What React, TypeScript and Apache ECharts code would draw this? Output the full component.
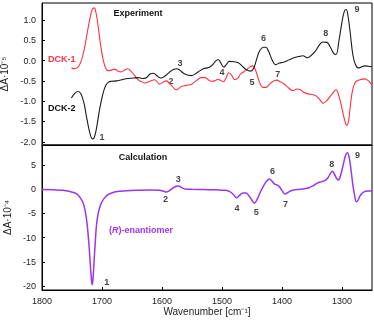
import React, { useEffect, useRef } from "react";
import * as echarts from "echarts";

// Experiment: DCK-1 (red)
const dck1Wn = [1751, 1746, 1740, 1735, 1730, 1725, 1720, 1716, 1713, 1710, 1706, 1702, 1698, 1694, 1690, 1685, 1679, 1673, 1668, 1662, 1657, 1652, 1646, 1640, 1634, 1628, 1622, 1612, 1604, 1598, 1593, 1585, 1576, 1568, 1560, 1551, 1543, 1535, 1528, 1523, 1518, 1512, 1507, 1502, 1498, 1493, 1489, 1484, 1479, 1474, 1469, 1464, 1459, 1454, 1449, 1445, 1441, 1437, 1432, 1427, 1422, 1416, 1409, 1403, 1397, 1390, 1382, 1375, 1370, 1364, 1357, 1348, 1342, 1336, 1331, 1325, 1318, 1310, 1305, 1299, 1295, 1292, 1289, 1286, 1282, 1277, 1270, 1262, 1256, 1250];
const dck1Val = [-0.18, -0.2, -0.16, -0.02, 0.25, 0.65, 1.05, 1.27, 1.3, 1.18, 0.8, 0.35, 0.02, -0.18, -0.25, -0.24, -0.21, -0.26, -0.28, -0.23, -0.2, -0.26, -0.36, -0.47, -0.52, -0.55, -0.52, -0.47, -0.58, -0.53, -0.5, -0.6, -0.72, -0.64, -0.61, -0.58, -0.5, -0.42, -0.42, -0.47, -0.51, -0.5, -0.46, -0.49, -0.52, -0.42, -0.3, -0.36, -0.47, -0.44, -0.33, -0.28, -0.22, -0.16, -0.13, -0.2, -0.38, -0.55, -0.66, -0.66, -0.6, -0.52, -0.48, -0.52, -0.57, -0.66, -0.74, -0.7, -0.71, -0.78, -0.82, -0.84, -0.88, -0.98, -1.05, -0.98, -0.85, -0.72, -0.88, -1.25, -1.5, -1.6, -1.48, -1.1, -0.7, -0.52, -0.47, -0.45, -0.5, -0.6];

// Experiment: DCK-2 (black)
const dck2Wn = [1751, 1745, 1740, 1735, 1730, 1725, 1720, 1716, 1713, 1709, 1704, 1699, 1694, 1689, 1684, 1676, 1667, 1657, 1648, 1640, 1633, 1626, 1620, 1614, 1608, 1602, 1595, 1588, 1581, 1575, 1570, 1562, 1551, 1540, 1531, 1522, 1515, 1510, 1506, 1502, 1497, 1492, 1488, 1480, 1473, 1466, 1460, 1452, 1447, 1442, 1437, 1431, 1427, 1422, 1416, 1411, 1404, 1398, 1388, 1380, 1372, 1365, 1358, 1352, 1345, 1338, 1332, 1325, 1320, 1314, 1310, 1305, 1300, 1296, 1293, 1290, 1286, 1282, 1278, 1273, 1268, 1262, 1256, 1250];
const dck2Val = [-0.92, -0.8, -0.76, -0.82, -1.05, -1.45, -1.8, -1.93, -1.9, -1.65, -1.2, -0.85, -0.62, -0.53, -0.51, -0.5, -0.47, -0.44, -0.43, -0.42, -0.44, -0.42, -0.33, -0.31, -0.38, -0.43, -0.38, -0.29, -0.22, -0.2, -0.24, -0.33, -0.37, -0.28, -0.2, -0.17, -0.09, 0.0, 0.02, -0.06, -0.16, -0.08, -0.02, -0.03, -0.05, -0.14, -0.22, -0.26, -0.18, 0.05, 0.25, 0.33, 0.33, 0.22, 0.0, -0.1, -0.06, -0.04, 0.02, 0.07, 0.1, 0.12, 0.07, 0.12, 0.22, 0.38, 0.46, 0.45, 0.35, 0.18, 0.15, 0.5, 0.95, 1.22, 1.26, 1.1, 0.65, 0.15, -0.08, -0.18, -0.16, -0.13, -0.14, -0.15];

// Calculation: (R)-enantiomer (purple)
const calcWn = [1800, 1780, 1765, 1755, 1745, 1740, 1735, 1731, 1728, 1725, 1722, 1720, 1718, 1716.5, 1715, 1713, 1711, 1709, 1706, 1703, 1700, 1695, 1690, 1685, 1675, 1660, 1640, 1620, 1605, 1598, 1593, 1588, 1582, 1576, 1572, 1567, 1560, 1550, 1530, 1510, 1495, 1487, 1481, 1476, 1471, 1465, 1460, 1455, 1450, 1446, 1441, 1436, 1431, 1426, 1421, 1417, 1413, 1409, 1405, 1400, 1395, 1390, 1384, 1375, 1365, 1355, 1348, 1342, 1335, 1328, 1323, 1319, 1316, 1313, 1309, 1306, 1302, 1298, 1294, 1291, 1288, 1285, 1282, 1279, 1276, 1273, 1269, 1264, 1257, 1250];
const calcVal = [-0.1, -0.15, -0.25, -0.45, -0.8, -1.2, -2.0, -3.0, -4.5, -7.0, -11, -14.6, -18, -19.7, -18.5, -14.5, -10.5, -7.2, -4.8, -3.5, -2.6, -1.7, -1.15, -0.85, -0.5, -0.35, -0.25, -0.2, -0.25, -0.4, -0.6, -0.35, 0.2, 0.6, 0.65, 0.3, 0.0, -0.05, -0.1, -0.15, -0.25, -0.5, -1.1, -1.8, -1.3, -0.8, -0.8, -1.4, -2.3, -2.9, -2.0, -0.6, 0.6, 1.6, 2.1, 1.7, 1.1, 0.9, 0.6, -0.3, -1.0, -0.7, -0.3, -0.1, 0.05, 0.3, 0.7, 1.2, 1.5, 1.8, 2.4, 3.3, 3.7, 3.2, 2.2, 1.9, 3.0, 5.0, 7.0, 7.5, 6.5, 4.0, 1.0, -1.3, -2.6, -2.2, -1.2, -0.6, -0.4, -0.4];

// Peak number labels (data coordinates)
const topPeakNames = ["1", "2", "3", "4", "5", "6", "7", "8", "9"];
const topPeakWn = [1700, 1585, 1570, 1500, 1450, 1431, 1407, 1327, 1275];
const topPeakVal = [-1.88, -0.5, -0.06, -0.27, -0.52, 0.55, -0.33, 0.67, 1.26];
const botPeakNames = ["1", "2", "3", "4", "5", "6", "7", "8", "9"];
const botPeakWn = [1692, 1594, 1573, 1475, 1443, 1416, 1394, 1317, 1274];
const botPeakVal = [-19.2, -2.1, 2.1, -3.9, -4.8, 3.7, -3.0, 5.1, 7.0];

// Tick values
const xTicks = [1800, 1700, 1600, 1500, 1400, 1300];
const topYTicks = [-2.0, -1.5, -1.0, -0.5, 0.0, 0.5, 1.0];
const botYTicks = [-20, -15, -10, -5, 0, 5];

const zip = (a: number[], b: number[]) => a.map((x, i) => [x, b[i]]);

const FONT = "Liberation Sans, Arial, sans-serif";
const RED = "#ff2f3f";
const BLACK = "#1a1a1a";
const PURPLE = "#9b35f0";

export default function App() {
  const ref = useRef<HTMLDivElement>(null);
  useEffect(() => {
    if (!ref.current) return;
    const chart = echarts.init(ref.current, undefined, { renderer: "svg" });
    const axisCommon = {
      axisLine: { show: true, onZero: false, lineStyle: { color: "#000", width: 1 } },
      splitLine: { show: false },
    };
    const labelStyle = { fontSize: 9, color: "#222", fontFamily: FONT };
    const peakLabel = {
      show: true,
      position: "inside",
      formatter: "{b}",
      fontSize: 9,
      fontWeight: "bold",
      color: "#111",
      fontFamily: FONT,
    };
    const gridCommon = {
      left: 42, right: 2, show: true, borderColor: "#000", borderWidth: 1,
      backgroundColor: "transparent", containLabel: false, outerBoundsMode: "none",
    };
    chart.setOption({
      animation: false,
      grid: [
        { ...gridCommon, top: 3, height: 142 },
        { ...gridCommon, top: 145, height: 145 },
      ],
      xAxis: [
        {
          type: "value", gridIndex: 0, min: 1250, max: 1800, inverse: true,
          ...axisCommon,
          axisTick: { show: false },
          axisLabel: { show: false },
        },
        {
          type: "value", gridIndex: 1, min: 1250, max: 1800, inverse: true,
          ...axisCommon,
          axisTick: { show: true, inside: true, length: 3, customValues: xTicks, lineStyle: { color: "#000" } },
          axisLabel: { ...labelStyle, margin: 6, customValues: xTicks, formatter: (v: number) => String(v) },
          name: "Wavenumber [cm\u207B\u00B9]",
          nameLocation: "middle",
          nameGap: 16,
          nameTextStyle: { fontSize: 10, color: "#222", fontFamily: FONT },
        },
      ],
      yAxis: [
        {
          type: "value", gridIndex: 0, min: -2.08, max: 1.42,
          ...axisCommon,
          axisTick: { show: true, inside: true, length: 3, customValues: topYTicks, lineStyle: { color: "#000" } },
          axisLabel: { ...labelStyle, margin: 6, customValues: topYTicks, formatter: (v: number) => v.toFixed(1) },
          name: "\u0394A\u00B710\u207B\u2075",
          nameLocation: "middle",
          nameGap: 24,
          nameTextStyle: { fontSize: 10, color: "#222", fontFamily: FONT },
        },
        {
          type: "value", gridIndex: 1, min: -20.8, max: 9.1,
          ...axisCommon,
          axisTick: { show: true, inside: true, length: 3, customValues: botYTicks, lineStyle: { color: "#000" } },
          axisLabel: { ...labelStyle, margin: 6, customValues: botYTicks, formatter: (v: number) => String(Math.round(v)) },
          name: "\u0394A\u00B710\u207B\u2074",
          nameLocation: "middle",
          nameGap: 24,
          nameTextStyle: { fontSize: 10, color: "#222", fontFamily: FONT },
        },
      ],
      series: [
        {
          type: "line", name: "DCK-1", xAxisIndex: 0, yAxisIndex: 0,
          data: zip(dck1Wn, dck1Val), showSymbol: false, smooth: 0.4,
          lineStyle: { color: RED, width: 1.1 }, silent: true,
        },
        {
          type: "line", name: "DCK-2", xAxisIndex: 0, yAxisIndex: 0,
          data: zip(dck2Wn, dck2Val), showSymbol: false, smooth: 0.4,
          lineStyle: { color: BLACK, width: 1.1 }, silent: true,
        },
        {
          type: "line", name: "(R)-enantiomer", xAxisIndex: 1, yAxisIndex: 1,
          data: zip(calcWn, calcVal), showSymbol: false, smooth: 0.4,
          lineStyle: { color: PURPLE, width: 1.5 }, silent: true,
        },
        {
          type: "scatter", xAxisIndex: 0, yAxisIndex: 0, symbolSize: 0.1,
          itemStyle: { color: "transparent" }, silent: true,
          data: topPeakNames.map((n, i) => ({ name: n, value: [topPeakWn[i], topPeakVal[i]] })),
          label: peakLabel,
        },
        {
          type: "scatter", xAxisIndex: 1, yAxisIndex: 1, symbolSize: 0.1,
          itemStyle: { color: "transparent" }, silent: true,
          data: botPeakNames.map((n, i) => ({ name: n, value: [botPeakWn[i], botPeakVal[i]] })),
          label: peakLabel,
        },
      ],
      graphic: [
        { type: "text", x: 138, y: 13, style: { text: "Experiment", fill: "#111", font: `bold 9px ${FONT}`, textAlign: "center", textVerticalAlign: "middle" } },
        { type: "text", x: 48, y: 59, style: { text: "DCK-1", fill: RED, font: `bold 9px ${FONT}`, textAlign: "left", textVerticalAlign: "middle" } },
        { type: "text", x: 48, y: 108, style: { text: "DCK-2", fill: "#111", font: `bold 9px ${FONT}`, textAlign: "left", textVerticalAlign: "middle" } },
        { type: "text", x: 143, y: 157, style: { text: "Calculation", fill: "#111", font: `bold 9px ${FONT}`, textAlign: "center", textVerticalAlign: "middle" } },
        {
          type: "text", x: 109, y: 230,
          style: {
            text: "({i|R})-enantiomer", fill: PURPLE, font: `bold 9px ${FONT}`, textAlign: "left", textVerticalAlign: "middle",
            rich: { i: { fontStyle: "italic", fontWeight: "bold", fontSize: 9, fontFamily: FONT, fill: PURPLE, color: PURPLE } },
          },
        },
      ],
    });
    return () => chart.dispose();
  }, []);
  return <div ref={ref} style={{ position: "fixed", left: 0, top: 0, width: 374, height: 329 }} />;
}
